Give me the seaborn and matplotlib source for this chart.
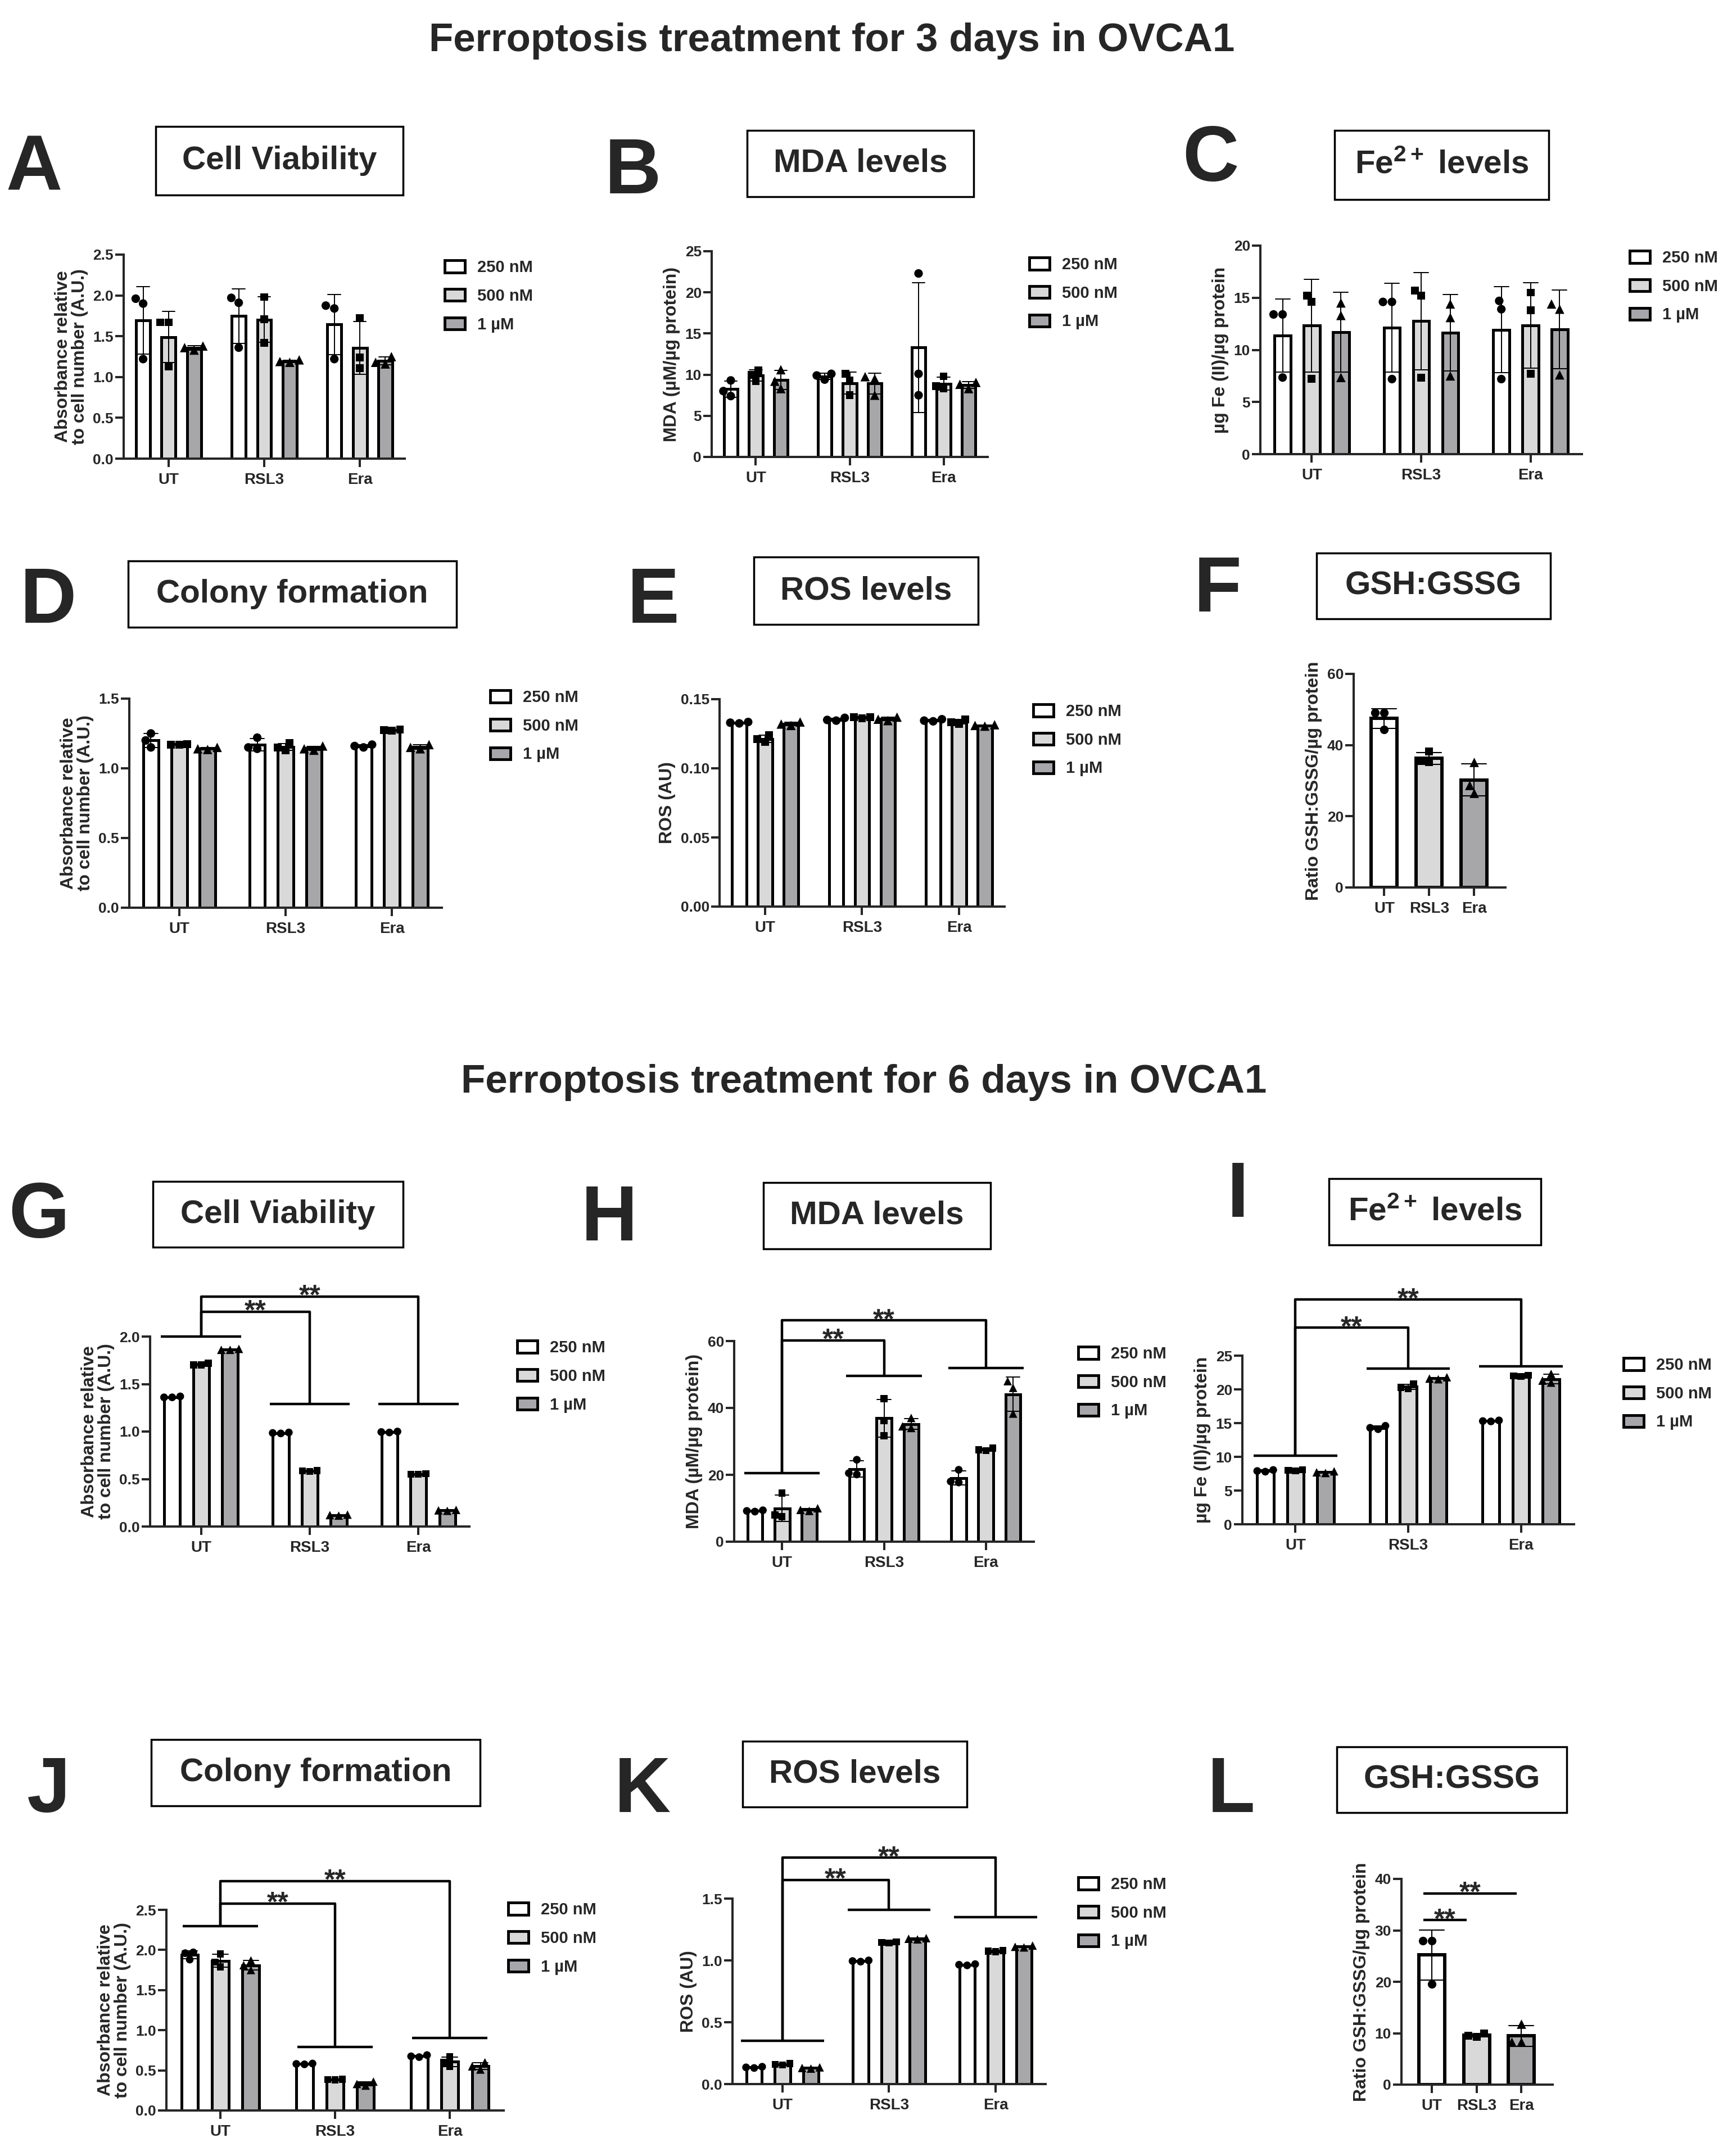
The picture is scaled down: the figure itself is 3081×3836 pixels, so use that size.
import matplotlib
matplotlib.use("Agg")
import matplotlib.pyplot as plt
import numpy as np
import pandas as pd
import seaborn as sns
from matplotlib.patches import Patch, Rectangle
from matplotlib.ticker import FormatStrFormatter

W, H, DPI = 3081, 3836, 100

GROUPS = ["UT", "RSL3", "Era"]
DOSES = ["250 nM", "500 nM", "1 µM"]
BAR_COLORS = ["#ffffff", "#d9d9d9", "#a6a6ab"]
MARKERS = ["o", "s", "^"]
MARKER_SIZES = [11, 10, 12]

# three replicate wells per bar, ordered UT/RSL3/Era x 250 nM/500 nM/1 uM
A_VIABILITY = [
    [1.96, 1.90, 1.22], [1.67, 1.67, 1.13], [1.38, 1.36, 1.33],
    [1.97, 1.91, 1.36], [1.98, 1.71, 1.42], [1.21, 1.19, 1.18],
    [1.875, 1.84, 1.22], [1.72, 1.24, 1.11], [1.25, 1.18, 1.16],
]
B_MDA = [
    [9.3, 8.0, 7.4], [10.5, 10.0, 9.2], [10.6, 9.2, 8.3],
    [10.1, 9.9, 9.4], [10.1, 9.3, 7.5], [9.75, 9.5, 7.5],
    [22.3, 10.1, 7.5], [9.8, 8.6, 8.3], [9.06, 8.83, 8.3],
]
C_FE = [
    [13.4, 13.4, 7.35], [15.2, 14.6, 7.2], [14.5, 13.3, 7.35],
    [14.6, 14.6, 7.2], [15.7, 15.2, 7.35], [14.4, 13.1, 7.5],
    [14.7, 13.9, 7.2], [15.5, 13.8, 7.7], [14.4, 13.9, 7.6],
]
D_COLONY = [
    [1.25, 1.20, 1.15], [1.175, 1.17, 1.17], [1.15, 1.14, 1.135],
    [1.22, 1.15, 1.14], [1.18, 1.15, 1.13], [1.16, 1.14, 1.13],
    [1.17, 1.16, 1.15], [1.28, 1.275, 1.27], [1.17, 1.15, 1.14],
]
E_ROS = [
    [0.1335, 0.133, 0.1325], [0.124, 0.121, 0.119], [0.1335, 0.132, 0.131],
    [0.1365, 0.135, 0.1345], [0.137, 0.137, 0.136], [0.137, 0.1355, 0.1345],
    [0.1355, 0.1345, 0.134], [0.1355, 0.1335, 0.132], [0.1315, 0.131, 0.1305],
]
F_GSH = [[49.1, 49.1, 44.3], [38.2, 35.5, 35.2], [35.2, 28.8, 26.5]]

G_VIABILITY = [
    [1.37, 1.36, 1.36], [1.72, 1.70, 1.70], [1.87, 1.86, 1.86],
    [0.99, 0.985, 0.98], [0.59, 0.585, 0.58], [0.125, 0.12, 0.115],
    [1.0, 0.995, 0.99], [0.555, 0.55, 0.55], [0.175, 0.17, 0.165],
]
H_MDA = [
    [9.4, 9.2, 9.0], [14.5, 8.0, 7.5], [10.0, 9.5, 9.2],
    [24.5, 20.5, 20.1], [42.8, 36.2, 31.7], [37.0, 34.5, 34.0],
    [21.5, 18.0, 17.7], [28.0, 27.5, 27.2], [48.0, 46.0, 38.3],
]
I_FE = [
    [8.05, 7.9, 7.8], [8.1, 8.0, 7.9], [7.85, 7.7, 7.6],
    [14.6, 14.3, 14.1], [20.8, 20.3, 20.1], [21.8, 21.6, 21.5],
    [15.4, 15.3, 15.25], [22.1, 22.0, 21.9], [22.3, 21.3, 21.0],
]
J_COLONY = [
    [1.97, 1.96, 1.88], [1.95, 1.85, 1.79], [1.87, 1.81, 1.75],
    [0.585, 0.58, 0.575], [0.39, 0.385, 0.38], [0.36, 0.33, 0.31],
    [0.69, 0.675, 0.665], [0.67, 0.60, 0.55], [0.60, 0.55, 0.51],
]
K_ROS = [
    [0.14, 0.135, 0.13], [0.165, 0.16, 0.155], [0.135, 0.13, 0.125],
    [1.0, 0.995, 0.99], [1.15, 1.145, 1.14], [1.18, 1.175, 1.17],
    [0.97, 0.965, 0.96], [1.08, 1.075, 1.07], [1.12, 1.11, 1.105],
]
L_GSH = [[28.0, 28.0, 19.6], [9.9, 9.5, 9.3], [11.8, 8.3, 8.3]]

# significance brackets (data units): group bar lines, then UT-RSL3 / UT-Era tops
G_GROUP_LINES = [2.0, 1.29, 1.29]
G_BRACKET_TOPS = [2.26, 2.42]
H_GROUP_LINES = [20.5, 49.5, 52.0]
H_BRACKET_TOPS = [60.2, 66.2]
I_GROUP_LINES = [10.2, 23.05, 23.4]
I_BRACKET_TOPS = [29.15, 33.3]
J_GROUP_LINES = [2.3, 0.79, 0.9]
J_BRACKET_TOPS = [2.58, 2.86]
K_GROUP_LINES = [0.35, 1.41, 1.35]
K_BRACKET_TOPS = [1.65, 1.83]
L_PAIR_LINES = [32.0, 37.2]
L_PAIR_SPANS = [(-0.19, 0.78), (-0.19, 1.90)]

YLAB_ABS = "Absorbance relative\nto cell number (A.U.)"
YLAB_MDA = "MDA (µM/µg protein)"
YLAB_FE = "µg Fe (II)/µg protein"
YLAB_ROS = "ROS (AU)"
YLAB_GSH = "Ratio GSH:GSSG/µg protein"

sns.set_style("ticks")
plt.rcParams["font.family"] = ["Liberation Sans", "DejaVu Sans"]
plt.rcParams["font.weight"] = "bold"
plt.rcParams["axes.labelweight"] = "bold"
plt.rcParams["mathtext.fontset"] = "custom"
plt.rcParams["mathtext.rm"] = "Liberation Sans:bold"
plt.rcParams["mathtext.it"] = "Liberation Sans:bold"
plt.rcParams["mathtext.bf"] = "Liberation Sans:bold"


def long_grouped(values):
    rows = []
    k = 0
    for g in GROUPS:
        for d in DOSES:
            for v in values[k]:
                rows.append((g, d, v))
            k += 1
    return pd.DataFrame(rows, columns=["group", "dose", "value"])


def long_single(values):
    rows = [(g, v) for g, reps in zip(GROUPS, values) for v in reps]
    return pd.DataFrame(rows, columns=["group", "value"])


def px_axes(fig, left, right, top, bottom):
    return fig.add_axes([left / W, 1 - bottom / H, (right - left) / W, (bottom - top) / H])


def style_axes(ax, ymax, ystep, fmt, ylabel, xlim):
    ax.set_ylim(0, ymax)
    ax.set_yticks(np.arange(0, ymax + ystep / 2, ystep))
    ax.yaxis.set_major_formatter(FormatStrFormatter(fmt))
    ax.set_xlim(*xlim)
    ax.set_xlabel("")
    ax.set_ylabel(ylabel, fontsize=23, fontweight="bold", linespacing=1.0, labelpad=6)
    sns.despine(ax=ax)
    for side in ("left", "bottom"):
        ax.spines[side].set_linewidth(2.9)
    ax.tick_params(axis="both", direction="out", length=11, width=2.9)
    ax.tick_params(axis="y", pad=2, labelsize=19)
    ax.tick_params(axis="x", pad=7, labelsize=20)


def grouped_panel(ax, values, scale=1.0):
    df = long_grouped(values)
    sns.barplot(data=df, x="group", y="value", hue="dose", order=GROUPS, hue_order=DOSES,
                palette=BAR_COLORS, gap=0.45, edgecolor="black", linewidth=3.6,
                errorbar="sd", capsize=0.4, err_kws={"color": "black", "linewidth": 1.4},
                legend=False, ax=ax)
    for dose, marker, size in zip(DOSES, MARKERS, MARKER_SIZES):
        sns.swarmplot(data=df[df["dose"] == dose], x="group", y="value", hue="dose",
                      order=GROUPS, hue_order=DOSES, dodge=True, palette=["black"] * 3,
                      marker=marker, size=size * scale, legend=False, ax=ax)


def single_panel(ax, values):
    df = long_single(values)
    sns.barplot(data=df, x="group", y="value", hue="group", order=GROUPS, hue_order=GROUPS,
                palette=BAR_COLORS, width=0.58, edgecolor="black", linewidth=4.3,
                errorbar="sd", capsize=0.55, err_kws={"color": "black", "linewidth": 1.5},
                legend=False, ax=ax)
    for g, marker, size in zip(GROUPS, MARKERS, MARKER_SIZES):
        sns.swarmplot(data=df[df["group"] == g], x="group", y="value", order=GROUPS,
                      color="black", marker=marker, size=size, ax=ax)


def dose_legend(ax, x, y):
    handles = [Patch(facecolor=c, edgecolor="black", linewidth=3.5) for c in BAR_COLORS]
    ax.legend(handles, DOSES, loc="upper left", bbox_to_anchor=(x / W, 1 - y / H),
              bbox_transform=ax.figure.transFigure, frameon=False,
              prop={"size": 21, "weight": "bold"}, handlelength=1.25, handleheight=0.75,
              handletextpad=0.75, labelspacing=0.78, borderpad=0, borderaxespad=0)


def star(ax, x, y, size=36):
    ax.annotate("**", xy=(x, y), xytext=(0, 4.5 - 0.4 * size), textcoords="offset points",
                ha="center", va="baseline", fontsize=size, fontweight="bold",
                annotation_clip=False)


def brackets(ax, group_lines, tops, half=0.37):
    kw = dict(color="black", lw=3.2, clip_on=False, solid_capstyle="butt")
    for i, y in enumerate(group_lines):
        ax.plot([i - half, i + half], [y, y], **kw)
    for j, top in zip([1, 2], tops):
        ax.plot([0, 0, j, j], [group_lines[0], top, top, group_lines[j]], **kw)
        star(ax, j / 2, top)


fig = plt.figure(figsize=(W / DPI, H / DPI), dpi=DPI)
fig.patch.set_facecolor("white")

GX = (-0.47, 2.47)
SX = (-0.68, 2.7)
SIX = 0.9  # day-6 panels use slightly smaller symbols

ax = px_axes(fig, 220, 720, 453, 816)
grouped_panel(ax, A_VIABILITY)
style_axes(ax, 2.5, 0.5, "%.1f", YLAB_ABS, GX)
dose_legend(ax, 791, 462)

ax = px_axes(fig, 1266, 1757, 447, 813)
grouped_panel(ax, B_MDA)
style_axes(ax, 25, 5, "%d", YLAB_MDA, GX)
dose_legend(ax, 1831, 457)

ax = px_axes(fig, 2242, 2814, 437, 808)
grouped_panel(ax, C_FE)
style_axes(ax, 20, 5, "%d", YLAB_FE, GX)
dose_legend(ax, 2899, 445)

ax = px_axes(fig, 230, 786, 1243, 1615)
grouped_panel(ax, D_COLONY)
style_axes(ax, 1.5, 0.5, "%.1f", YLAB_ABS, GX)
dose_legend(ax, 872, 1227)

ax = px_axes(fig, 1280, 1787, 1244, 1613)
grouped_panel(ax, E_ROS)
style_axes(ax, 0.15, 0.05, "%.2f", YLAB_ROS, GX)
dose_legend(ax, 1838, 1252)

ax = px_axes(fig, 2408, 2678, 1199, 1579)
single_panel(ax, F_GSH)
style_axes(ax, 60, 20, "%d", YLAB_GSH, SX)

ax = px_axes(fig, 267, 835, 2378, 2716)
grouped_panel(ax, G_VIABILITY, SIX)
style_axes(ax, 2.0, 0.5, "%.1f", YLAB_ABS, GX)
brackets(ax, G_GROUP_LINES, G_BRACKET_TOPS)
dose_legend(ax, 920, 2384)

ax = px_axes(fig, 1306, 1839, 2386, 2743)
grouped_panel(ax, H_MDA, SIX)
style_axes(ax, 60, 20, "%d", YLAB_MDA, GX)
brackets(ax, H_GROUP_LINES, H_BRACKET_TOPS)
dose_legend(ax, 1918, 2395)

ax = px_axes(fig, 2210, 2800, 2412, 2712)
grouped_panel(ax, I_FE, SIX)
style_axes(ax, 25, 5, "%d", YLAB_FE, GX)
brackets(ax, I_GROUP_LINES, I_BRACKET_TOPS)
dose_legend(ax, 2888, 2415)

ax = px_axes(fig, 296, 896, 3398, 3755)
grouped_panel(ax, J_COLONY, SIX)
style_axes(ax, 2.5, 0.5, "%.1f", YLAB_ABS, GX)
brackets(ax, J_GROUP_LINES, J_BRACKET_TOPS, half=0.33)
dose_legend(ax, 904, 3384)

ax = px_axes(fig, 1303, 1860, 3378, 3708)
grouped_panel(ax, K_ROS, SIX)
style_axes(ax, 1.5, 0.5, "%.1f", YLAB_ROS, GX)
brackets(ax, K_GROUP_LINES, K_BRACKET_TOPS, half=0.39)
dose_legend(ax, 1918, 3339)

ax = px_axes(fig, 2493, 2762, 3343, 3709)
single_panel(ax, L_GSH)
style_axes(ax, 40, 10, "%d", YLAB_GSH, SX)
for (x0, x1), y in zip(L_PAIR_SPANS, L_PAIR_LINES):
    ax.plot([x0, x1], [y, y], color="black", lw=3.2, clip_on=False, solid_capstyle="butt")
    star(ax, (x0 + x1) / 2, y)

# headings, panel letters and boxed titles
fig.text(1480 / W, 1 - 73 / H, "Ferroptosis treatment for 3 days in OVCA1",
         ha="center", va="center", fontsize=51, fontweight="bold")
fig.text(1537 / W, 1 - 1926 / H, "Ferroptosis treatment for 6 days in OVCA1",
         ha="center", va="center", fontsize=51, fontweight="bold")

LETTERS = [("A", 61, 303), ("B", 1126, 308), ("C", 2153, 286), ("D", 86, 1072),
           ("E", 1162, 1072), ("F", 2166, 1052), ("G", 69, 2166), ("H", 1084, 2171),
           ("I", 2202, 2129), ("J", 86, 3188), ("K", 1143, 3188), ("L", 2190, 3188)]
for letter, x, y in LETTERS:
    fig.text(x / W, 1 - y / H, letter, ha="center", va="center", fontsize=100, fontweight="bold")

BOX_TITLES = [
    ("Cell Viability", 277, 717, 225, 347),
    ("MDA levels", 1329, 1732, 232, 350),
    ("Fe$^{2+}$levels", 2374, 2755, 232, 355),
    ("Colony formation", 228, 812, 998, 1116),
    ("ROS levels", 1341, 1740, 991, 1111),
    ("GSH:GSSG", 2342, 2758, 984, 1101),
    ("Cell Viability", 272, 717, 2102, 2219),
    ("MDA levels", 1358, 1762, 2104, 2222),
    ("Fe$^{2+}$levels", 2364, 2741, 2097, 2215),
    ("Colony formation", 269, 854, 3095, 3213),
    ("ROS levels", 1321, 1720, 3098, 3215),
    ("GSH:GSSG", 2378, 2787, 3108, 3225),
]
for label, x0, x1, y0, y1 in BOX_TITLES:
    fig.add_artist(Rectangle((x0 / W, 1 - y1 / H), (x1 - x0) / W, (y1 - y0) / H,
                             transform=fig.transFigure, fill=False, edgecolor="black", lw=2.5))
    fig.text((x0 + x1) / 2 / W, 1 - (y0 + y1) / 2 / H, label.replace("$levels", "$ levels"),
             ha="center", va="center", fontsize=42, fontweight="bold")

fig.savefig("out.png", dpi=DPI, facecolor="white")
